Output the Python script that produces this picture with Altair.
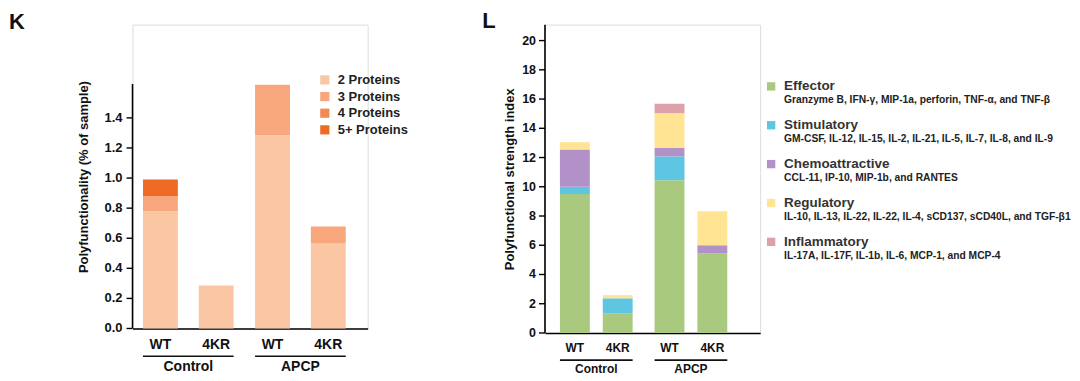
import altair as alt
import pandas as pd

FONT = "Liberation Sans"

# ---------------- Panel K data ----------------
k_groups = ["Control", "Control", "APCP", "APCP"]
k_genotypes = ["WT", "4KR", "WT", "4KR"]
k_series = ["2 Proteins", "3 Proteins", "4 Proteins", "5+ Proteins"]
k_p2 = [0.78, 0.285, 1.285, 0.565]
k_p3 = [0.10, 0.0, 0.335, 0.113]
k_p4 = [0.0, 0.0, 0.0, 0.0]
k_p5 = [0.11, 0.0, 0.0, 0.0]
k_colors = ["#fbc6a4", "#f8a67b", "#f38a52", "#ee6b26"]
k_yticks = [0.0, 0.2, 0.4, 0.6, 0.8, 1.0, 1.2, 1.4]
k_axis_top = 1.625
k_ytitle = "Polyfunctionality (% of sample)"

# ---------------- Panel L data ----------------
l_groups = ["Control", "Control", "APCP", "APCP"]
l_genotypes = ["WT", "4KR", "WT", "4KR"]
l_series = ["Effector", "Stimulatory", "Chemoattractive", "Regulatory", "Inflammatory"]
l_subtitles = [
    "Granzyme B, IFN-\u03b3, MIP-1a, perforin, TNF-\u03b1, and TNF-\u03b2",
    "GM-CSF, IL-12, IL-15, IL-2, IL-21, IL-5, IL-7, IL-8, and IL-9",
    "CCL-11, IP-10, MIP-1b, and RANTES",
    "IL-10, IL-13, IL-22, IL-22, IL-4, sCD137, sCD40L, and TGF-\u03b21",
    "IL-17A, IL-17F, IL-1b, IL-6, MCP-1, and MCP-4",
]
l_effector = [9.5, 1.35, 10.45, 5.45]
l_stimulatory = [0.5, 1.02, 1.63, 0.0]
l_chemo = [2.55, 0.0, 0.57, 0.55]
l_regulatory = [0.5, 0.22, 2.39, 2.33]
l_inflammatory = [0.0, 0.0, 0.64, 0.0]
l_colors = ["#a9c97f", "#5ec6e2", "#b291c9", "#fee493", "#dca1a9"]
l_yticks = [0, 2, 4, 6, 8, 10, 12, 14, 16, 18, 20]
l_ytitle = "Polyfunctional strength index"

group_order = ["Control", "APCP"]
geno_order = ["WT", "4KR"]


def long_df(groups, genos, series, columns):
    rows = []
    for si, (s, vals) in enumerate(zip(series, columns)):
        for g, gt, v in zip(groups, genos, vals):
            rows.append({"group": g, "geno": gt, "series": s, "sidx": si, "value": v})
    return pd.DataFrame(rows)


def panel(df, groups, genos, series, colors, yticks, ydomain, axis_top, ytitle, yfmt,
          width, height, x_pad_inner, x_pad_outer, x_align, off_pad_inner,
          label_size, label_dy, line_dy, group_dy, tick_size, tick_label_x, title_size,
          title_pad, letter, letter_x, letter_y, legend_layers):
    xenc = alt.X("group:N", sort=group_order,
                 scale=alt.Scale(domain=group_order, paddingInner=x_pad_inner,
                                 paddingOuter=x_pad_outer, align=x_align),
                 axis=alt.Axis(labels=False, ticks=False, title=None, grid=False,
                               domainColor="black", domainWidth=1.6))
    xoff = alt.XOffset("geno:N", sort=geno_order,
                       scale=alt.Scale(domain=geno_order, paddingInner=off_pad_inner,
                                       paddingOuter=0))
    yscale = alt.Scale(domain=ydomain, nice=False, zero=True)
    bars = alt.Chart(df).mark_bar(strokeWidth=0).encode(
        x=xenc,
        xOffset=xoff,
        y=alt.Y("value:Q", stack="zero", scale=yscale,
                axis=alt.Axis(domain=False, ticks=False, labels=False, grid=False,
                              title=ytitle, titleFont=FONT, titleFontSize=title_size,
                              titleFontWeight="bold", titleColor="#111",
                              titlePadding=title_pad)),
        color=alt.Color("series:N", scale=alt.Scale(domain=series, range=colors), legend=None),
        order=alt.Order("sidx:Q", sort="ascending"),
    )
    # y axis line, ticks and tick labels drawn from the tick list through the y scale
    yaxis_line = alt.Chart(pd.DataFrame({"a": [0]})).mark_rule(
        color="black", strokeWidth=1.6).encode(
        x=alt.value(0), y=alt.datum(0), y2=alt.datum(axis_top))
    tick_df = pd.DataFrame({"v": yticks})
    tick_marks = alt.Chart(tick_df).mark_rule(color="black", strokeWidth=1.4).encode(
        y=alt.Y("v:Q"), x=alt.value(-6), x2=alt.value(0))
    tick_labels = alt.Chart(tick_df).mark_text(
        font=FONT, fontSize=tick_size, fontWeight="bold", color="#111", align="right",
        baseline="middle").encode(
        y=alt.Y("v:Q"), x=alt.value(tick_label_x), text=alt.Text("v:Q", format=yfmt))

    lab_df = pd.DataFrame({"group": groups, "geno": genos})
    geno_text = alt.Chart(lab_df).mark_text(
        font=FONT, fontSize=label_size, fontWeight="bold", color="#111",
        baseline="middle").encode(
        x=alt.X("group:N", sort=group_order),
        xOffset=alt.XOffset("geno:N", sort=geno_order),
        text="geno:N", y=alt.value(height + label_dy))
    grp_df = pd.DataFrame({"group": group_order})
    underline = alt.Chart(grp_df).mark_rect(color="#111").encode(
        x=alt.X("group:N", sort=group_order),
        y=alt.value(height + line_dy), y2=alt.value(height + line_dy + 1.6))
    grp_text = alt.Chart(grp_df).mark_text(
        font=FONT, fontSize=label_size, fontWeight="bold", color="#111",
        baseline="middle").encode(
        x=alt.X("group:N", sort=group_order), text="group:N",
        y=alt.value(height + group_dy))
    letter_mark = alt.Chart(pd.DataFrame({"t": [letter]})).mark_text(
        font=FONT, fontSize=22, fontWeight="bold", color="#111", align="left",
        baseline="alphabetic").encode(
        x=alt.value(letter_x), y=alt.value(letter_y), text="t:N")

    return alt.layer(bars, yaxis_line, tick_marks, tick_labels, geno_text, underline,
                     grp_text, letter_mark, *legend_layers).properties(width=width, height=height)


# ---------- Panel K ----------
k_df = long_df(k_groups, k_genotypes, k_series, [k_p2, k_p3, k_p4, k_p5])
K_H = 305
k_legend = []
for i, (s, c) in enumerate(zip(k_series, k_colors)):
    d = pd.DataFrame({"t": [s]})
    yy = 55.5 + i * 16.7
    k_legend.append(alt.Chart(d).mark_square(size=85, color=c, opacity=1).encode(
        x=alt.value(193), y=alt.value(yy)))
    k_legend.append(alt.Chart(d).mark_text(
        font=FONT, fontSize=13, fontWeight="bold", color="#222", align="left",
        baseline="middle").encode(x=alt.value(206), y=alt.value(yy), text="t:N"))

k_chart = panel(k_df, k_groups, k_genotypes, k_series, k_colors, k_yticks,
                [0, 305 / 151], k_axis_top, k_ytitle, ".1f",
                width=236, height=K_H, x_pad_inner=0.191, x_pad_outer=0.1444,
                x_align=0.323, off_pad_inner=0.375, label_size=14, label_dy=17,
                line_dy=27, group_dy=38.5, tick_size=13, tick_label_x=-10,
                title_size=13, title_pad=42,
                letter="K", letter_x=-124, letter_y=4, legend_layers=k_legend)

# ---------- Panel L ----------
l_df = long_df(l_groups, l_genotypes, l_series,
               [l_effector, l_stimulatory, l_chemo, l_regulatory, l_inflammatory])
L_H = 309.5
l_legend = []
for i, (s, sub, c) in enumerate(zip(l_series, l_subtitles, l_colors)):
    d = pd.DataFrame({"t": [s], "sub": [sub]})
    yy = 62 + i * 39
    l_legend.append(alt.Chart(d).mark_square(size=70, color=c, opacity=1).encode(
        x=alt.value(227), y=alt.value(yy)))
    l_legend.append(alt.Chart(d).mark_text(
        font=FONT, fontSize=13.5, fontWeight="bold", color="#333", align="left",
        baseline="middle").encode(x=alt.value(240), y=alt.value(yy), text="t:N"))
    l_legend.append(alt.Chart(d).mark_text(
        font=FONT, fontSize=10.3, fontWeight="bold", color="#222", align="left",
        baseline="middle").encode(x=alt.value(240), y=alt.value(yy + 14), text="sub:N"))

l_chart = panel(l_df, l_groups, l_genotypes, l_series, l_colors, l_yticks,
                [0, 309.5 / 14.675], 309.5 / 14.675, l_ytitle, "d",
                width=216, height=L_H, x_pad_inner=0.2316, x_pad_outer=0.2526,
                x_align=0.3125, off_pad_inner=0.302, label_size=12, label_dy=15,
                line_dy=26.5, group_dy=36.5, tick_size=12.5, tick_label_x=-9,
                title_size=13, title_pad=29,
                letter="L", letter_x=-63, letter_y=3, legend_layers=l_legend)

chart = alt.hconcat(k_chart, l_chart, spacing=178, bounds="flush").resolve_scale(
    x="independent", y="independent", xOffset="independent", color="independent"
).properties(
    padding={"left": 0, "top": 0, "right": 0, "bottom": 0}
).configure_view(strokeWidth=0, stroke="transparent").configure(background="white")

chart.save("out.html", embed_options={"renderer": "svg", "actions": False})
